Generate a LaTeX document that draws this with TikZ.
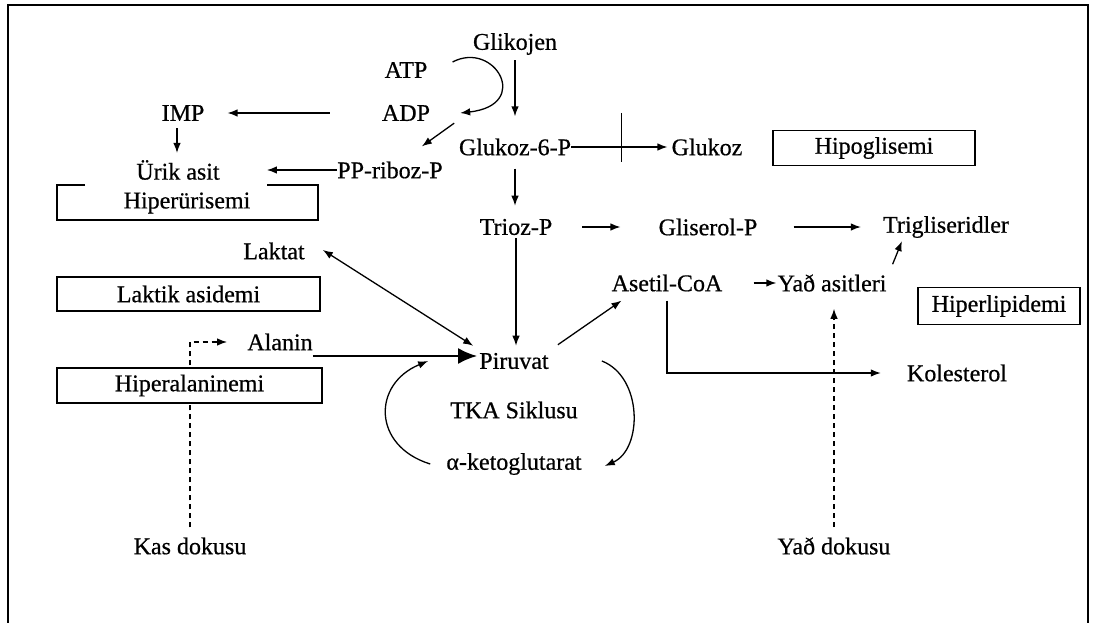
\documentclass[tikz,border=0pt]{standalone}
\usepackage{fontspec}
\setmainfont{Liberation Serif}[FakeBold=0.6]
\usetikzlibrary{arrows.meta,calc}
\tikzset{
  lbl/.style={inner sep=0pt, font=\fontsize{24}{27}\selectfont},
  box/.style={lbl, draw, line width=1.3pt, fill=white},
  arr/.style={line width=1.3pt, -{Latex[length=10pt,width=7.5pt]}},
  dsh/.style={arr, dash pattern=on 5pt off 4pt},
}

\begin{document}
\begin{tikzpicture}[x=1pt,y=1pt]
  \useasboundingbox (0,0) rectangle (1095,-623);
  \draw[line width=1.6pt] (8,-623) -- (8,-5) -- (1088,-5) -- (1088,-623);
  % metabolites
  \node[lbl] (glikojen) at (515,-44) {Glikojen};
  \node[lbl] (atp) at (406,-70) {ATP};
  \node[lbl] (adp) at (406,-113) {ADP};
  \node[lbl] (imp) at (183,-113) {IMP};
  \node[lbl] (urik) at (178,-170) {Ürik asit};
  \node[lbl] (ppriboz) at (390,-170) {PP-riboz-P};
  \node[lbl] (gsixp) at (515,-147) {Glukoz-6-P};
  \node[lbl] (glukoz) at (707,-147) {Glukoz};
  \node[lbl] (trioz) at (516,-227) {Trioz-P};
  \node[lbl] (gliserol) at (708,-227) {Gliserol-P};
  \node[lbl] (trig) at (946,-227) {Trigliseridler};
  \node[lbl] (laktat) at (274,-251) {Laktat};
  \node[lbl] (asetil) at (667,-283) {Asetil-CoA};
  \node[lbl] (yagasit) at (832,-283) {Yað asitleri};
  \node[lbl] (alanin) at (280,-342) {Alanin};
  \node[lbl] (piruvat) at (514,-361) {Piruvat};
  \node[lbl] (kolest) at (957,-373) {Kolesterol};
  \node[lbl] (tka) at (514,-410) {TKA Siklusu};
  \node[lbl] (alfa) at (514,-464) {α-ketoglutarat};
  \node[lbl] (kas) at (190,-546) {Kas dokusu};
  \node[lbl] (yagdoku) at (834,-546) {Yað dokusu};

  % dashed paths from the tissues
  \draw[dsh,shorten <=10pt,shorten >=20pt] (kas.north) |- (alanin.west);
  \draw[dsh,shorten <=10pt,shorten >=17pt] (yagdoku.north) -- (yagdoku.north |- yagasit.south);

  % clinical findings
  \node[box,minimum width=202pt,minimum height=35pt] (hipogl) at (874,-148) {Hipoglisemi};
  \node[lbl] (hiperur) at (187,-203) {Hiperürisemi};
  \draw[line width=1.3pt] (85,-185) -- (57,-185) -- (57,-220) -- (318,-220) -- (318,-185) -- (267,-185);
  \node[box,minimum width=263pt,minimum height=34pt] (laktik) at (188.5,-294) {Laktik asidemi};
  \node[box,minimum width=162pt,minimum height=37pt] (hiperlip) at (999,-306) {Hiperlipidemi};
  \node[box,minimum width=265pt,minimum height=35pt] (hiperal) at (189.5,-385.5) {Hiperalaninemi};

  % reactions
  \draw[arr,shorten <=5pt,shorten >=22pt] (glikojen.south) -- (glikojen.south |- gsixp.north);
  \draw[arr] ([shift={(25,8)}]atp.east) .. controls +(42,22) and +(72,8) .. ([xshift=30pt]adp.east);
  \draw[arr,shorten <=52pt,shorten >=23pt] (adp.west) -- (imp.east);
  \draw[arr,shorten <=7pt,shorten >=7pt] ([xshift=-6pt]imp.south) -- ([xshift=-6pt]imp.south |- urik.north);
  \draw[arr,shorten >=47pt] (ppriboz.west) -- (urik.east);
  \draw[arr] ([shift={(24,-2)}]adp.south east) -- ([shift={(-21,15)}]ppriboz.north east);
  \draw[arr,shorten >=4pt] (gsixp.east) -- (glukoz.west);
  \draw[line width=1.6pt] ($(gsixp.east)!.5!(glukoz.west)+(0,34)$) -- ++(0,-49);
  \draw[arr,shorten <=13pt,shorten >=13pt] (gsixp.south) -- (gsixp.south |- trioz.north);
  \draw[arr,shorten <=30pt,shorten >=38pt] (trioz.east) -- (gliserol.west);
  \draw[arr,shorten <=36pt,shorten >=22pt] (gliserol.east) -- (trig.west);
  \draw[line width=1.3pt,{Latex[length=10pt,width=7.5pt]}-{Latex[length=10pt,width=7.5pt]}] ([shift={(18,1)}]laktat.east) -- ([shift={(-6,7)}]piruvat.north west);
  \draw[arr,shorten <=3pt,shorten >=7pt] (trioz.south) -- (trioz.south |- piruvat.north);
  \draw[line width=2.4pt,-{Latex[length=19pt,width=16pt]},shorten >=2pt] ([yshift=-14pt]alanin.east) -- ([yshift=-14pt]alanin.east -| piruvat.west);
  \draw[arr] ([shift={(9,8)}]piruvat.north east) -- ([shift={(10,-9)}]asetil.south west);
  \draw[arr,shorten <=31pt,shorten >=1pt] (asetil.east) -- (yagasit.west);
  \draw[arr] ([shift={(6,10)}]yagasit.north east) -- ([shift={(19,-3)}]trig.south west);
  \draw[arr,shorten <=9pt,shorten >=26pt] (asetil.south) |- (kolest.west);
  % TKA cycle
  \draw[arr] ([xshift=-16pt]alfa.west) .. controls +(-58,18) and +(-56,-23) .. ([xshift=-51pt]piruvat.west);
  \draw[arr] ([xshift=53pt]piruvat.east) .. controls +(41,-16) and +(38,17) .. ([shift={(23,-2)}]alfa.east);
\end{tikzpicture}
\end{document}
